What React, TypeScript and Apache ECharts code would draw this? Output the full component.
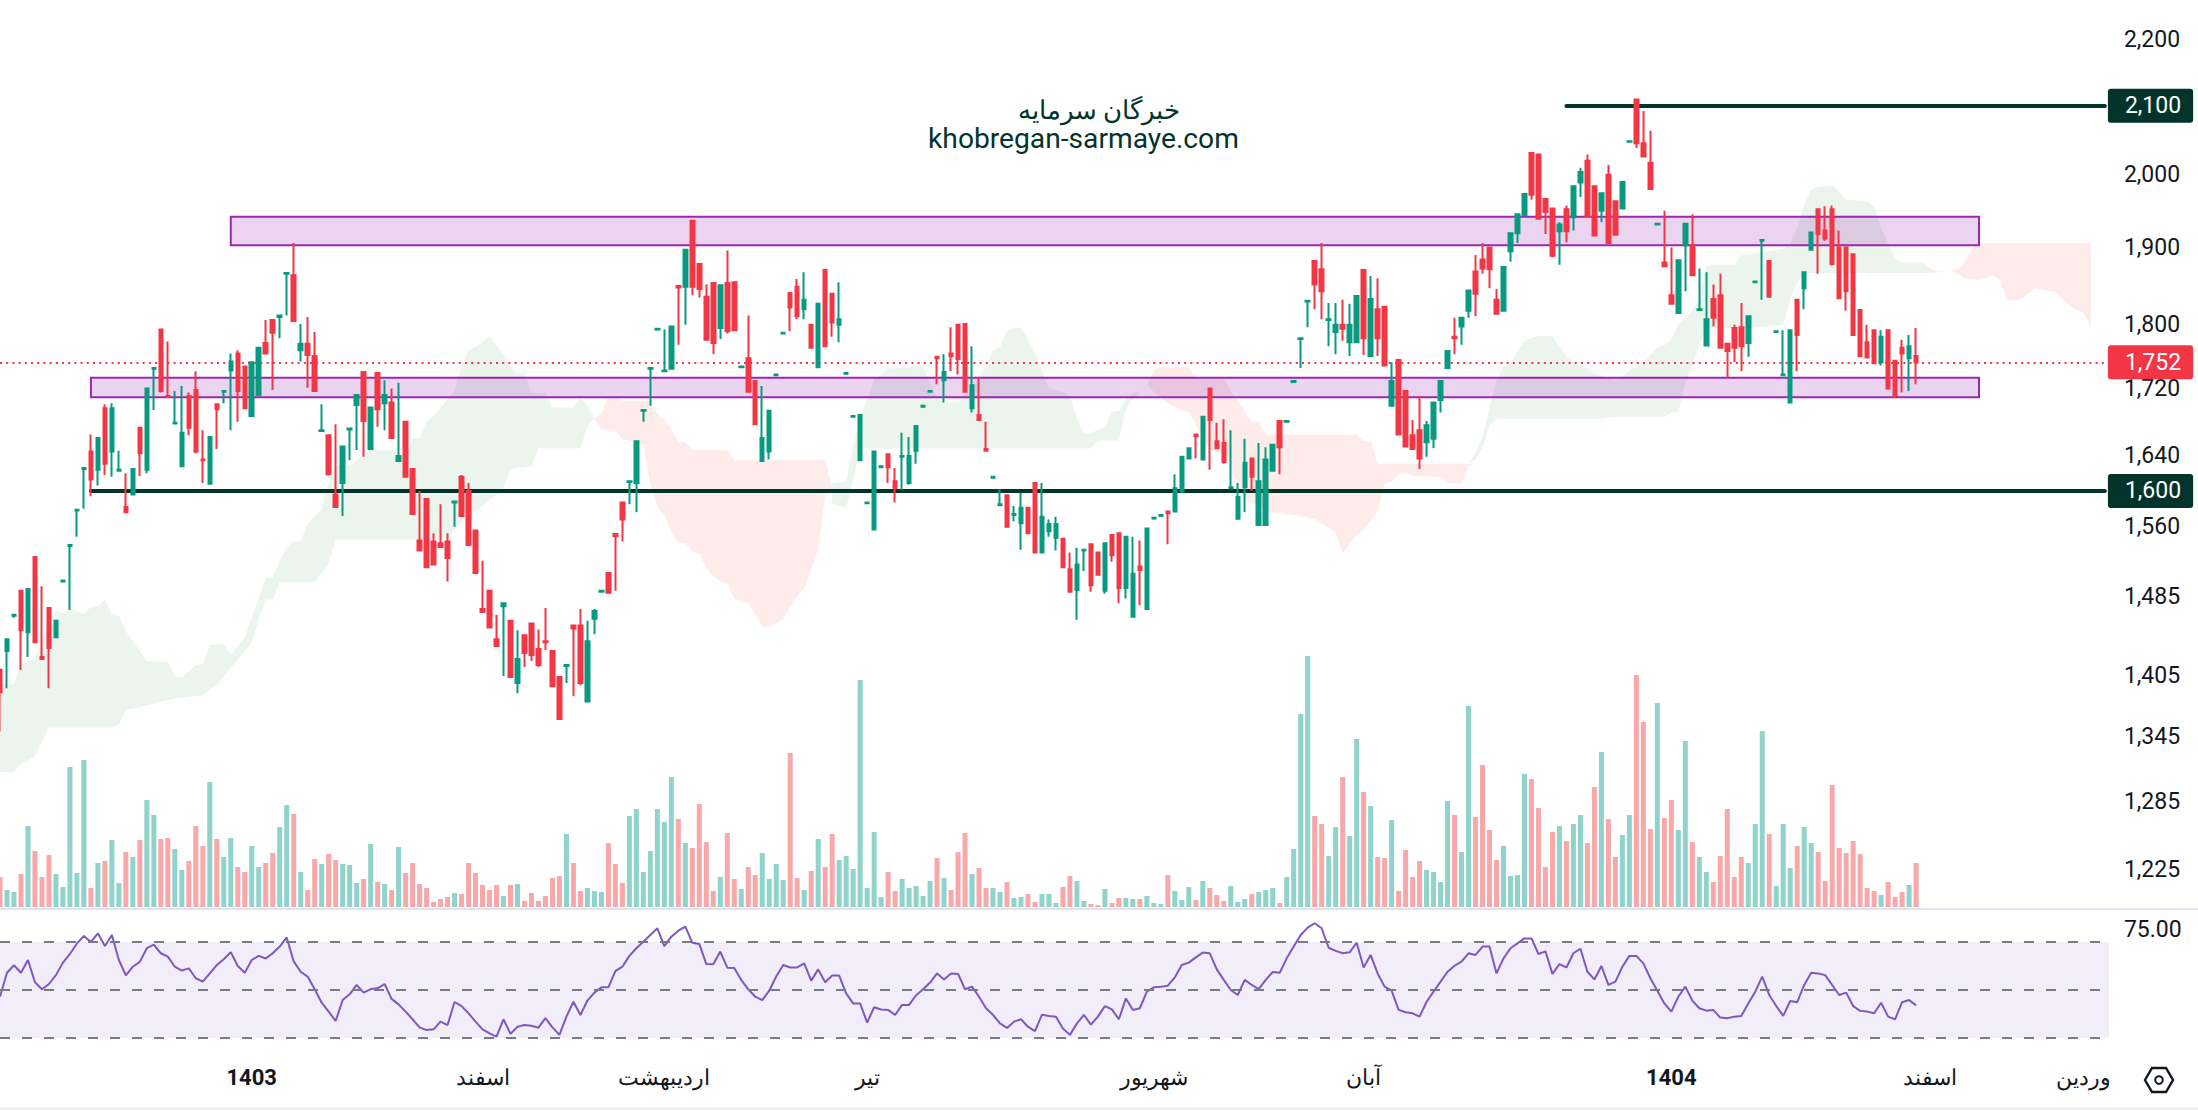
import React, { useEffect, useRef } from "react";
import * as echarts from "echarts";

const opens = [1410,1429,1465,1491,1448,1527,1423,1473,1443,1501,
1539,1578,1625,1645,1624,1696,1645,1623,1582,1596,
1673,1624,1744,1793,1711,1678,1628,1711,1718,1636,
1608,1701,1716,1742,1763,1747,1687,1712,1776,1805,
1809,1865,1863,1767,1775,1760,1669,1664,1596,1609,
1671,1700,1740,1648,1739,1702,1703,1634,1680,1625,
1545,1591,1544,1542,1544,1587,1616,1600,1556,1472,
1491,1441,1475,1460,1397,1445,1457,1431,1439,1429,
1403,1414,1455,1455,1379,1462,1490,1510,1552,1587,
1610,1609,1693,1744,1793,1741,1744,1849,1848,1936,
1878,1835,1853,1795,1853,1854,1746,1757,1729,1634,
1645,1736,1788,1840,1848,1819,1799,1746,1870,1839,
1799,1738,1686,1635,1586,1557,1627,1642,1611,1639,
1609,1646,1698,1716,1759,1730,1763,1799,1800,1696,
1688,1648,1615,1584,1595,1573,1564,1581,1609,1532,
1555,1548,1547,1514,1492,1534,1541,1532,1491,1551,
1553,1494,1464,1517,1472,1569,1572,1577,1577,1599,
1637,1665,1636,1720,1657,1655,1603,1569,1604,1637,
1562,1562,1623,1681,1680,1728,1781,1829,1882,1871,
1805,1790,1799,1777,1777,1870,1760,1819,1822,1699,
1755,1717,1664,1670,1656,1660,1706,1745,1784,1797,
1817,1868,1884,1900,1831,1817,1895,1919,1944,2031,
2029,1966,1953,1922,1952,1941,1989,2020,1984,1950,
2000,1963,1953,2047,2109,2045,2017,1931,1880,1837,
1814,1903,1903,1818,1773,1832,1837,1775,1795,1796,
1776,1854,1909,1882,1790,1736,1703,1831,1846,1897,
1952,1923,1952,1900,1900,1891,1818,1777,1792,1752,
1792,1754,1770,1757,1760];
const closes = [1388,1441,1466,1450,1493,1438,1421,1432,1460,1502,
1540,1579,1626,1613,1661,1631,1696,1624,1576,1625,
1643,1720,1745,1717,1710,1679,1667,1673,1645,1635,
1662,1695,1717,1753,1717,1696,1752,1770,1763,1789,
1811,1866,1804,1775,1761,1717,1670,1619,1582,1651,
1672,1712,1681,1697,1695,1712,1661,1640,1616,1574,
1534,1516,1519,1538,1526,1588,1572,1540,1510,1469,
1453,1434,1478,1403,1421,1427,1425,1415,1438,1394,
1362,1415,1452,1397,1439,1470,1491,1489,1550,1568,
1611,1657,1694,1745,1794,1742,1797,1847,1897,1848,
1845,1780,1776,1850,1791,1792,1747,1716,1677,1661,
1693,1737,1789,1821,1810,1831,1770,1826,1772,1802,
1806,1739,1687,1688,1587,1645,1628,1627,1603,1640,
1640,1675,1699,1717,1757,1740,1760,1756,1716,1724,
1682,1646,1616,1585,1560,1574,1581,1553,1532,1571,
1563,1563,1516,1490,1519,1535,1497,1508,1542,1529,
1494,1549,1509,1513,1558,1570,1573,1575,1603,1639,
1649,1663,1686,1682,1649,1633,1604,1593,1632,1616,
1611,1636,1653,1650,1681,1729,1782,1830,1851,1842,
1806,1799,1794,1799,1836,1782,1832,1782,1748,1729,
1665,1651,1648,1637,1676,1703,1729,1766,1782,1808,
1843,1839,1872,1871,1813,1874,1919,1945,1973,1972,
1939,1948,1889,1931,1922,1984,2004,1942,1916,1974,
1906,1917,1990,2048,2045,2026,1980,1932,1875,1826,
1883,1932,1863,1819,1806,1808,1770,1766,1770,1772,
1810,1855,1910,1835,1791,1737,1792,1786,1867,1920,
1918,1912,1878,1833,1842,1786,1760,1758,1751,1784,
1720,1711,1763,1772,1752];
const lows = [1350,1392,1463,1410,1423,1438,1421,1392,1443,1500,
1471,1549,1580,1594,1606,1618,1616,1623,1576,1596,
1617,1620,1694,1715,1709,1677,1628,1664,1643,1609,
1608,1648,1702,1670,1680,1696,1687,1712,1763,1718,
1782,1811,1804,1753,1721,1717,1669,1619,1582,1572,
1635,1647,1639,1648,1674,1670,1661,1634,1616,1574,
1534,1516,1519,1538,1501,1560,1572,1540,1510,1469,
1453,1434,1404,1403,1387,1413,1419,1413,1430,1394,
1361,1397,1384,1395,1379,1446,1489,1489,1491,1544,
1585,1576,1680,1699,1793,1741,1744,1774,1799,1837,
1834,1780,1762,1781,1788,1792,1745,1715,1677,1634,
1636,1735,1787,1791,1806,1806,1770,1746,1772,1784,
1777,1737,1685,1635,1586,1556,1627,1609,1587,1601,
1607,1631,1697,1715,1725,1703,1741,1737,1716,1691,
1682,1646,1614,1584,1560,1566,1535,1553,1532,1532,
1549,1534,1516,1490,1461,1512,1490,1508,1488,1522,
1478,1483,1464,1476,1472,1569,1572,1541,1577,1599,
1637,1637,1636,1624,1649,1631,1603,1569,1576,1600,
1562,1562,1623,1619,1680,1727,1745,1796,1819,1806,
1772,1762,1779,1760,1777,1761,1760,1760,1748,1699,
1665,1651,1648,1625,1639,1649,1691,1745,1762,1774,
1808,1810,1865,1846,1813,1817,1881,1906,1944,1965,
1939,1918,1887,1877,1907,1923,1969,1942,1916,1934,
1906,1917,1953,2047,2038,2026,1980,1930,1875,1826,
1814,1842,1863,1818,1772,1797,1770,1733,1752,1741,
1759,1853,1831,1835,1789,1736,1703,1741,1819,1897,
1865,1909,1876,1833,1817,1786,1760,1757,1750,1748,
1720,1709,1715,1717,1725];
const highs = [1412,1441,1467,1491,1493,1527,1496,1473,1460,1503,
1541,1579,1626,1665,1661,1701,1702,1646,1620,1625,
1673,1720,1746,1793,1778,1717,1723,1715,1741,1670,
1662,1701,1718,1763,1767,1747,1752,1770,1805,1805,
1811,1867,1906,1800,1809,1790,1701,1664,1677,1651,
1672,1712,1740,1697,1739,1730,1720,1727,1680,1625,
1600,1591,1553,1585,1553,1588,1618,1609,1556,1523,
1492,1466,1478,1460,1450,1445,1457,1451,1473,1429,
1403,1415,1455,1472,1460,1472,1491,1510,1552,1587,
1611,1657,1694,1745,1794,1793,1797,1849,1897,1936,
1878,1851,1853,1850,1896,1854,1748,1811,1729,1723,
1693,1738,1789,1840,1858,1867,1799,1826,1870,1839,
1854,1740,1688,1689,1588,1645,1629,1642,1626,1667,
1662,1675,1699,1718,1759,1762,1796,1799,1800,1772,
1734,1680,1616,1602,1595,1583,1598,1581,1609,1609,
1568,1571,1547,1532,1537,1535,1541,1532,1542,1551,
1553,1549,1549,1545,1558,1570,1573,1577,1619,1639,
1649,1665,1686,1720,1679,1683,1670,1609,1660,1637,
1655,1650,1653,1681,1682,1730,1783,1830,1882,1906,
1827,1827,1831,1826,1836,1870,1862,1859,1822,1752,
1755,1717,1682,1711,1681,1703,1729,1766,1808,1808,
1843,1890,1906,1901,1845,1874,1919,1945,1973,2031,
2029,1966,1953,1934,1957,1985,2010,2029,1984,1974,
2014,1963,1990,2049,2109,2092,2063,1932,1950,1900,
1883,1932,1945,1872,1867,1851,1865,1775,1799,1827,
1810,1856,1911,1882,1792,1792,1792,1831,1867,1920,
1952,1956,1957,1923,1900,1891,1818,1799,1792,1792,
1792,1754,1780,1786,1795];
const volumes = [90,51,45,99,243,168,90,156,99,60,
420,102,441,57,132,138,201,72,165,150,
201,321,276,204,207,174,111,138,243,183,
375,204,150,207,120,105,183,120,132,162,
240,306,279,105,51,144,129,159,141,129,
126,72,84,189,75,69,51,180,102,132,
69,57,15,24,30,42,39,132,102,66,
51,66,33,66,69,18,42,18,33,87,
93,219,132,48,57,48,45,192,129,72,
273,294,105,168,294,255,390,264,192,177,
309,195,48,90,222,84,54,120,96,162,
84,129,81,462,87,51,108,204,120,219,
141,153,114,681,57,225,30,105,48,84,
57,63,33,78,147,87,51,165,222,99,
117,57,57,45,75,27,30,39,15,39,
39,12,60,93,78,18,9,6,54,12,
27,27,24,24,33,12,9,96,48,21,
60,21,78,57,36,18,63,15,24,39,
45,51,57,12,90,174,579,753,273,249,
153,240,390,213,504,345,303,150,147,261,
48,171,90,138,111,105,75,318,276,165,
603,270,426,231,141,183,93,96,399,384,
297,120,225,243,198,249,276,192,360,465,
264,150,216,276,696,555,234,612,267,321,
231,498,195,150,105,75,153,294,90,150,
132,249,528,219,63,249,117,183,240,192,
165,78,366,177,162,198,159,57,48,36,
75,30,45,66,132];
const rsiValues = [47.2,57.2,60.3,57.2,62.5,53.2,50.3,52.5,56.2,61.4,
65,69.4,72.5,70,73.6,68.3,72.9,62.5,56.1,59.7,
61.7,67.4,68.9,65.3,63.9,59.7,58.1,59,54.9,53.5,
56.9,60.4,62.8,65.8,60,57.2,62.5,64.2,63.1,65.3,
68.1,71.9,61.9,57.6,55.6,50.3,44.7,41,37.1,45.8,
48.2,52.1,48.9,50.4,50.7,52.5,46.3,44,41,37.8,
34.4,33.3,33.6,36.8,35.4,45,43.3,40.3,36.8,33.6,
31.9,30.6,37.8,31.7,34.7,35.4,35.1,34.3,38.3,34.4,
31.3,38.9,45.1,39.6,45.6,48.9,51.1,51.1,57.9,59.7,
64.2,67.4,70.1,72.9,75.7,68.3,72.2,74.7,76.4,69.7,
69.2,60.8,60.7,66,59.3,59.2,54.2,50.3,47.2,45.8,
49.7,55.6,60.4,59.4,59.4,61.1,53.9,58.6,53.2,56,
56,48.6,44.4,44.4,36.4,42.8,41.9,41.7,39.6,43.8,
43.8,47.8,50.3,53.1,56.9,54.4,56.9,56.7,50.3,51.4,
47.2,42.4,39.6,36.1,34.2,36.8,37.8,34.7,32.9,39.7,
39.2,38.9,34,31.3,36.1,39.6,35.6,38.9,43.3,41.9,
37.8,46.5,41.7,42.4,49.3,51.1,51.4,51.8,55.3,60.4,
61.4,63.6,65.6,65.3,58.6,54.2,50,47.9,54.2,52.1,
50.4,54.2,57.5,57.2,63.2,68.1,72.9,76,77.8,75.7,
67.6,66.3,65.3,65.7,69.7,59.4,64.6,56.9,51.4,49.7,
41.7,40.7,40.3,38.9,45.1,49.3,53.5,57.6,60.1,61.8,
65.3,64.6,68.1,68.1,56.9,63.2,67.4,69.4,71.5,71.5,
65,66.1,56.7,60.8,59.4,65.3,67.2,57.6,54.4,60,
52.1,53.5,59.7,64.2,64.2,61.1,54.9,49.7,44.4,41,
47.2,51.4,45.6,42.4,41.4,41.7,38.5,38.2,38.9,39.2,
44.4,49.3,55.6,47.9,43.3,39.2,45.4,44.9,52.1,57.2,
56.9,56.2,52.1,47.9,48.9,43.3,41.3,41,40.3,44.7,
38.9,37.8,44.9,45.8,43.6];

// Ichimoku cloud outlines: [candle index, price]
const cloudGreen1Top = [[0,1396],[2,1396],[3,1415],[5,1422],[7,1457],[8,1470],[9,1468],[10,1472],[12,1467],[13,1474],[14,1474],[15,1482],[16,1466],[17,1465],[18,1449],[21,1419],[24,1418],[25,1404],[26,1402],[28,1415],[29,1416],[30,1435],[32,1436],[33,1425],[35,1443],[37,1483],[38,1505],[39,1505],[40,1523],[41,1538],[42,1544],[43,1544],[44,1564],[46,1579],[47,1610],[48,1629],[50,1629],[52,1641],[53,1647],[56,1647],[58,1638],[59,1660],[60,1661],[61,1680],[62,1687],[65,1717],[66,1747],[67,1767],[68,1771],[70,1784],[72,1762],[73,1745],[74,1739],[75,1739],[76,1715],[78,1714],[79,1697],[82,1697],[83,1708],[84,1699],[85,1684]];
const cloudGreen1Bottom = [[0,1312],[2,1312],[3,1320],[5,1327],[7,1354],[16,1354],[17,1357],[18,1371],[21,1375],[23,1379],[25,1382],[29,1385],[30,1391],[31,1395],[36,1438],[37,1462],[38,1482],[39,1482],[40,1500],[45,1500],[47,1520],[48,1546],[64,1546],[65,1557],[72,1603],[73,1625],[76,1628],[77,1649],[83,1649],[84,1675],[85,1684]];
const cloudRed1Top = [[85,1684],[86,1690],[87,1711],[88,1708],[89,1705],[93,1705],[94,1690],[96,1672],[97,1656],[98,1656],[99,1647],[104,1647],[105,1635],[118,1635],[119,1603]];
const cloudRed1Bottom = [[85,1684],[86,1671],[88,1670],[89,1660],[92,1653],[93,1608],[94,1582],[95,1573],[96,1554],[97,1542],[98,1542],[99,1533],[100,1530],[101,1515],[102,1507],[103,1501],[104,1499],[105,1483],[106,1480],[107,1478],[108,1466],[109,1454],[110,1453],[112,1462],[114,1486],[115,1493],[117,1534],[118,1596],[119,1603]];
const cloudGreen2Top = [[119,1609],[121,1611],[122,1653],[123,1684],[124,1707],[125,1730],[127,1744],[130,1746],[131,1749],[132,1746],[134,1708],[135,1703],[137,1703],[138,1711],[139,1718],[140,1734],[141,1747],[142,1768],[143,1771],[144,1791],[145,1795],[146,1795],[147,1781],[148,1762],[149,1742],[150,1720],[151,1718],[152,1716],[153,1711],[154,1684],[155,1667],[156,1667],[157,1670],[158,1674],[159,1692],[160,1693],[161,1706],[162,1714],[163,1716],[164,1724]];
const cloudGreen2Bottom = [[119,1586],[121,1581],[122,1612],[123,1649],[156,1649],[157,1658],[160,1658],[161,1696],[162,1707],[163,1715],[164,1724]];
const cloudRed2Top = [[164,1724],[165,1742],[166,1746],[170,1746],[171,1733],[175,1733],[176,1717],[179,1680],[180,1680],[181,1665],[194,1665],[195,1657],[196,1657],[197,1631],[211,1631]];
const cloudRed2Bottom = [[164,1724],[165,1716],[167,1702],[169,1693],[170,1692],[171,1677],[172,1660],[173,1648],[175,1641],[176,1624],[178,1591],[181,1577],[185,1573],[188,1569],[191,1554],[192,1531],[194,1551],[195,1557],[197,1577],[198,1608],[199,1610],[200,1620],[201,1620],[202,1617],[206,1616],[207,1609],[209,1608],[210,1629],[211,1631]];
const cloudGreen3Top = [[210,1631],[211,1643],[212,1662],[213,1696],[214,1730],[215,1747],[216,1750],[217,1765],[218,1779],[219,1782],[220,1785],[222,1785],[223,1772],[224,1760],[225,1752],[226,1747],[227,1745],[228,1738],[229,1736],[231,1730],[232,1735],[233,1742],[234,1747],[236,1761],[237,1771],[238,1773],[239,1781],[240,1799],[241,1808],[242,1818],[243,1832],[244,1875],[245,1877],[248,1877],[249,1891],[250,1891],[255,1898],[256,1905],[257,1925],[258,1958],[259,1979],[260,1983],[262,1985],[263,1976],[264,1965],[267,1963],[268,1956],[269,1927],[270,1905],[271,1885],[272,1880],[275,1880],[276,1866]];
const cloudGreen3Bottom = [[210,1631],[211,1636],[212,1650],[213,1675],[214,1684],[229,1684],[230,1685],[231,1686],[238,1686],[239,1691],[240,1692],[241,1727],[242,1747],[243,1773],[244,1795],[252,1796],[255,1799],[256,1831],[257,1853],[258,1866],[276,1866]];
const cloudRed3Top = [[275,1880],[276,1872],[277,1868],[279,1869],[280,1873],[281,1880],[282,1899],[283,1906],[299,1906]];
const cloudRed3Bottom = [[275,1880],[276,1866],[277,1867],[279,1869],[280,1865],[281,1858],[283,1857],[285,1863],[286,1857],[287,1831],[289,1831],[290,1839],[291,1846],[294,1841],[295,1831],[296,1823],[297,1818],[298,1813],[299,1797]];

const GREEN_CLOUD = "#ebf4ed";
const RED_CLOUD = "#fdecea";
const clouds = [
  { top: cloudGreen1Top, bottom: cloudGreen1Bottom, color: GREEN_CLOUD },
  { top: cloudRed1Top, bottom: cloudRed1Bottom, color: RED_CLOUD },
  { top: cloudGreen2Top, bottom: cloudGreen2Bottom, color: GREEN_CLOUD },
  { top: cloudRed2Top, bottom: cloudRed2Bottom, color: RED_CLOUD },
  { top: cloudGreen3Top, bottom: cloudGreen3Bottom, color: GREEN_CLOUD },
  { top: cloudRed3Top, bottom: cloudRed3Bottom, color: RED_CLOUD },
];

const priceTicks = [2200, 2000, 1900, 1800, 1720, 1640, 1560, 1485, 1405, 1345, 1285, 1225];
const supportZones = [
  { from: 33, to: 283, high: 1941.5, low: 1903 },
  { from: 13, to: 283, high: 1733, low: 1709.5 },
];
const keyLevels = [
  { from: 224, value: 2100, text: "2,100" },
  { from: 13, value: 1600, text: "1,600" },
];
const lastPrice = 1752;
const rsiBandHigh = 70;
const rsiMiddle = 50;
const rsiBandLow = 30;
const timeLabels: [number, string][] = [
  [36, "1403"], [69, "اسفند"], [95, "اردیبهشت"], [124, "تیر"], [165, "شهریور"],
  [195, "آبان"], [239, "1404"], [276, "اسفند"], [298, "وردین"],
];
const CATEGORY_COUNT = 302;
const categories = Array.from({ length: CATEGORY_COUNT }, (_, i) => {
  const hit = timeLabels.find((t) => t[0] === i);
  return hit ? hit[1] : "";
});

const UP = "#089981";
const DOWN = "#f23645";
const DARK = "#03342b";
const TEXT = "#131722";
const FONT = "Roboto, 'Noto Sans', sans-serif";

const PLOT_WIDTH = 2104.9;
const LAST_INDEX = CATEGORY_COUNT - 1;

function tagLabel(text: string, bg: string) {
  return {
    show: true,
    position: "end",
    distance: 3,
    formatter: text,
    color: "#fff",
    fontFamily: FONT,
    fontSize: 23,
    lineHeight: 24,
    backgroundColor: bg,
    padding: [5, 12, 5, 17],
    borderRadius: 3,
  };
}

export default function App() {
  const ref = useRef<HTMLDivElement>(null);
  useEffect(() => {
    document.body.style.margin = "0";
    document.body.style.background = "#fff";
    const chart = echarts.init(ref.current!, null, { renderer: "svg" });
    const candleData = opens.map((o, i) => [o, closes[i], lows[i], highs[i]]);
    const volumeData = volumes.map((v, i) => ({
      value: v,
      itemStyle: { color: closes[i] >= opens[i] ? "#8fd3ca" : "#f9a8aa" },
    }));
    chart.setOption({
      animation: false,
      backgroundColor: "#fff",
      grid: [
        { left: 0, top: 0, width: PLOT_WIDTH, height: 907 },
        { left: 0, top: 910, width: PLOT_WIDTH, height: 140 },
        { left: 0, top: 910, width: 2109, height: 140 },
      ],
      xAxis: [
        { type: "category", boundaryGap: false, gridIndex: 0, data: categories, show: false },
        {
          type: "category",
          boundaryGap: false,
          gridIndex: 1,
          data: categories,
          axisLine: { show: false },
          axisTick: { show: false },
          splitLine: { show: false },
          axisLabel: {
            interval: (_: number, v: string) => v !== "",
            hideOverlap: false,
            margin: 16,
            color: TEXT,
            fontFamily: FONT,
            fontSize: 22,
            formatter: (v: string) => (/\d/.test(v) ? `{b|${v}}` : v),
            rich: { b: { fontWeight: "bold", fontSize: 22, fontFamily: FONT, color: TEXT } },
          },
        },
        { type: "value", gridIndex: 2, min: 0, max: 1, show: false, splitLine: { show: false } },
      ],
      yAxis: [
        {
          type: "log",
          logBase: 10,
          gridIndex: 0,
          position: "right",
          min: 1192.8,
          max: 2262.6,
          axisLine: { show: false },
          axisTick: { show: false },
          splitLine: { show: false },
          minorTick: { show: false },
          axisLabel: {
            show: true,
            customValues: priceTicks,
            margin: 19,
            padding: [0, 0, 5, 0],
            color: TEXT,
            fontFamily: FONT,
            fontSize: 23,
            formatter: (v: number) => Math.round(v).toLocaleString("en-US"),
          },
        },
        { type: "value", gridIndex: 0, min: 0, max: 2721, show: false, splitLine: { show: false } },
        {
          type: "value",
          gridIndex: 1,
          position: "right",
          min: 25,
          max: 83.33,
          axisLine: { show: false },
          axisTick: { show: false },
          splitLine: { show: false },
          axisLabel: {
            customValues: [75],
            margin: 19,
            color: TEXT,
            fontFamily: FONT,
            fontSize: 23,
            formatter: (v: number) => v.toFixed(2),
          },
        },
        { type: "value", gridIndex: 2, min: 25, max: 83.33, show: false, splitLine: { show: false } },
      ],
      series: [
        {
          type: "custom",
          name: "cloud",
          xAxisIndex: 0,
          yAxisIndex: 0,
          z: 1,
          silent: true,
          clip: true,
          encode: { x: 0, y: 1 },
          data: clouds.map((_, i) => [i, 1600]),
          renderItem: (params: any, api: any) => {
            const c = clouds[params.dataIndex];
            const pts = c.top
              .concat(c.bottom.slice().reverse())
              .map((p: number[]) => api.coord(p));
            return { type: "polygon", shape: { points: pts }, style: { fill: c.color }, silent: true };
          },
        },
        {
          type: "line",
          name: "zones",
          xAxisIndex: 0,
          yAxisIndex: 0,
          z: 2,
          silent: true,
          data: [],
          markArea: {
            silent: true,
            z: 2,
            itemStyle: { color: "rgba(156,39,176,0.2)", borderColor: "#9c27b0", borderWidth: 2 },
            label: { show: false },
            data: supportZones.map((z) => [
              { xAxis: z.from, yAxis: z.high },
              { xAxis: z.to, yAxis: z.low },
            ]),
          },
          markLine: {
            silent: true,
            symbol: "none",
            z: 3,
            data: [
              ...keyLevels.map((l) => [
                {
                  coord: [l.from, l.value],
                  lineStyle: { color: DARK, width: 4, type: "solid", cap: "round" },
                  label: tagLabel(l.text, DARK),
                },
                { coord: [LAST_INDEX, l.value] },
              ]),
              [
                {
                  coord: [0, lastPrice],
                  lineStyle: { color: DOWN, width: 2, type: [2, 4.2] },
                  label: tagLabel("1,752", DOWN),
                },
                { coord: [LAST_INDEX, lastPrice] },
              ],
            ],
          },
        },
        {
          type: "bar",
          name: "volume",
          xAxisIndex: 0,
          yAxisIndex: 1,
          z: 3,
          barWidth: 5,
          silent: true,
          data: volumeData,
        },
        {
          type: "candlestick",
          name: "price",
          xAxisIndex: 0,
          yAxisIndex: 0,
          z: 5,
          silent: true,
          barWidth: 4,
          itemStyle: {
            color: UP,
            color0: DOWN,
            borderColor: UP,
            borderColor0: DOWN,
            borderColorDoji: UP,
            borderWidth: 2,
          },
          data: candleData,
        },
        {
          type: "line",
          name: "rsiBand",
          xAxisIndex: 2,
          yAxisIndex: 3,
          z: 2,
          silent: true,
          data: [],
          markArea: {
            silent: true,
            itemStyle: { color: "rgba(126,87,194,0.1)" },
            label: { show: false },
            data: [[{ yAxis: rsiBandHigh }, { yAxis: rsiBandLow }]],
          },
          markLine: {
            silent: true,
            symbol: "none",
            label: { show: false },
            lineStyle: { color: "#787b86", width: 2, type: [10, 12] },
            data: [{ yAxis: rsiBandHigh }, { yAxis: rsiMiddle }, { yAxis: rsiBandLow }],
          },
        },
        {
          type: "line",
          name: "rsi",
          xAxisIndex: 1,
          yAxisIndex: 2,
          z: 4,
          silent: true,
          symbol: "none",
          lineStyle: { color: "#7e57c2", width: 2 },
          data: rsiValues,
        },
      ],
      graphic: [
        { type: "rect", silent: true, shape: { x: 0, y: 908, width: 2198, height: 2 }, style: { fill: "#dfe1ec" } },
        { type: "rect", silent: true, shape: { x: 0, y: 1107, width: 2198, height: 3 }, style: { fill: "#f0f0f7" } },
        {
          type: "text",
          silent: true,
          x: 1099,
          y: 110,
          style: { text: "خبرگان سرمایه", fill: DARK, font: `26px ${FONT}`, align: "center", verticalAlign: "middle" },
        },
        {
          type: "text",
          silent: true,
          x: 1083.5,
          y: 138,
          style: { text: "khobregan-sarmaye.com", fill: DARK, font: `28.2px ${FONT}`, align: "center", verticalAlign: "middle" },
        },
        {
          type: "polygon",
          silent: true,
          shape: { points: [[2145, 1080], [2152, 1068], [2166, 1068], [2173, 1080], [2166, 1092], [2152, 1092]] },
          style: { fill: "none", stroke: TEXT, lineWidth: 2.4 },
        },
        { type: "circle", silent: true, shape: { cx: 2159, cy: 1080, r: 3.8 }, style: { fill: "none", stroke: TEXT, lineWidth: 2 } },
      ],
    });
    return () => chart.dispose();
  }, []);
  return <div ref={ref} style={{ width: 2198, height: 1110 }} />;
}
